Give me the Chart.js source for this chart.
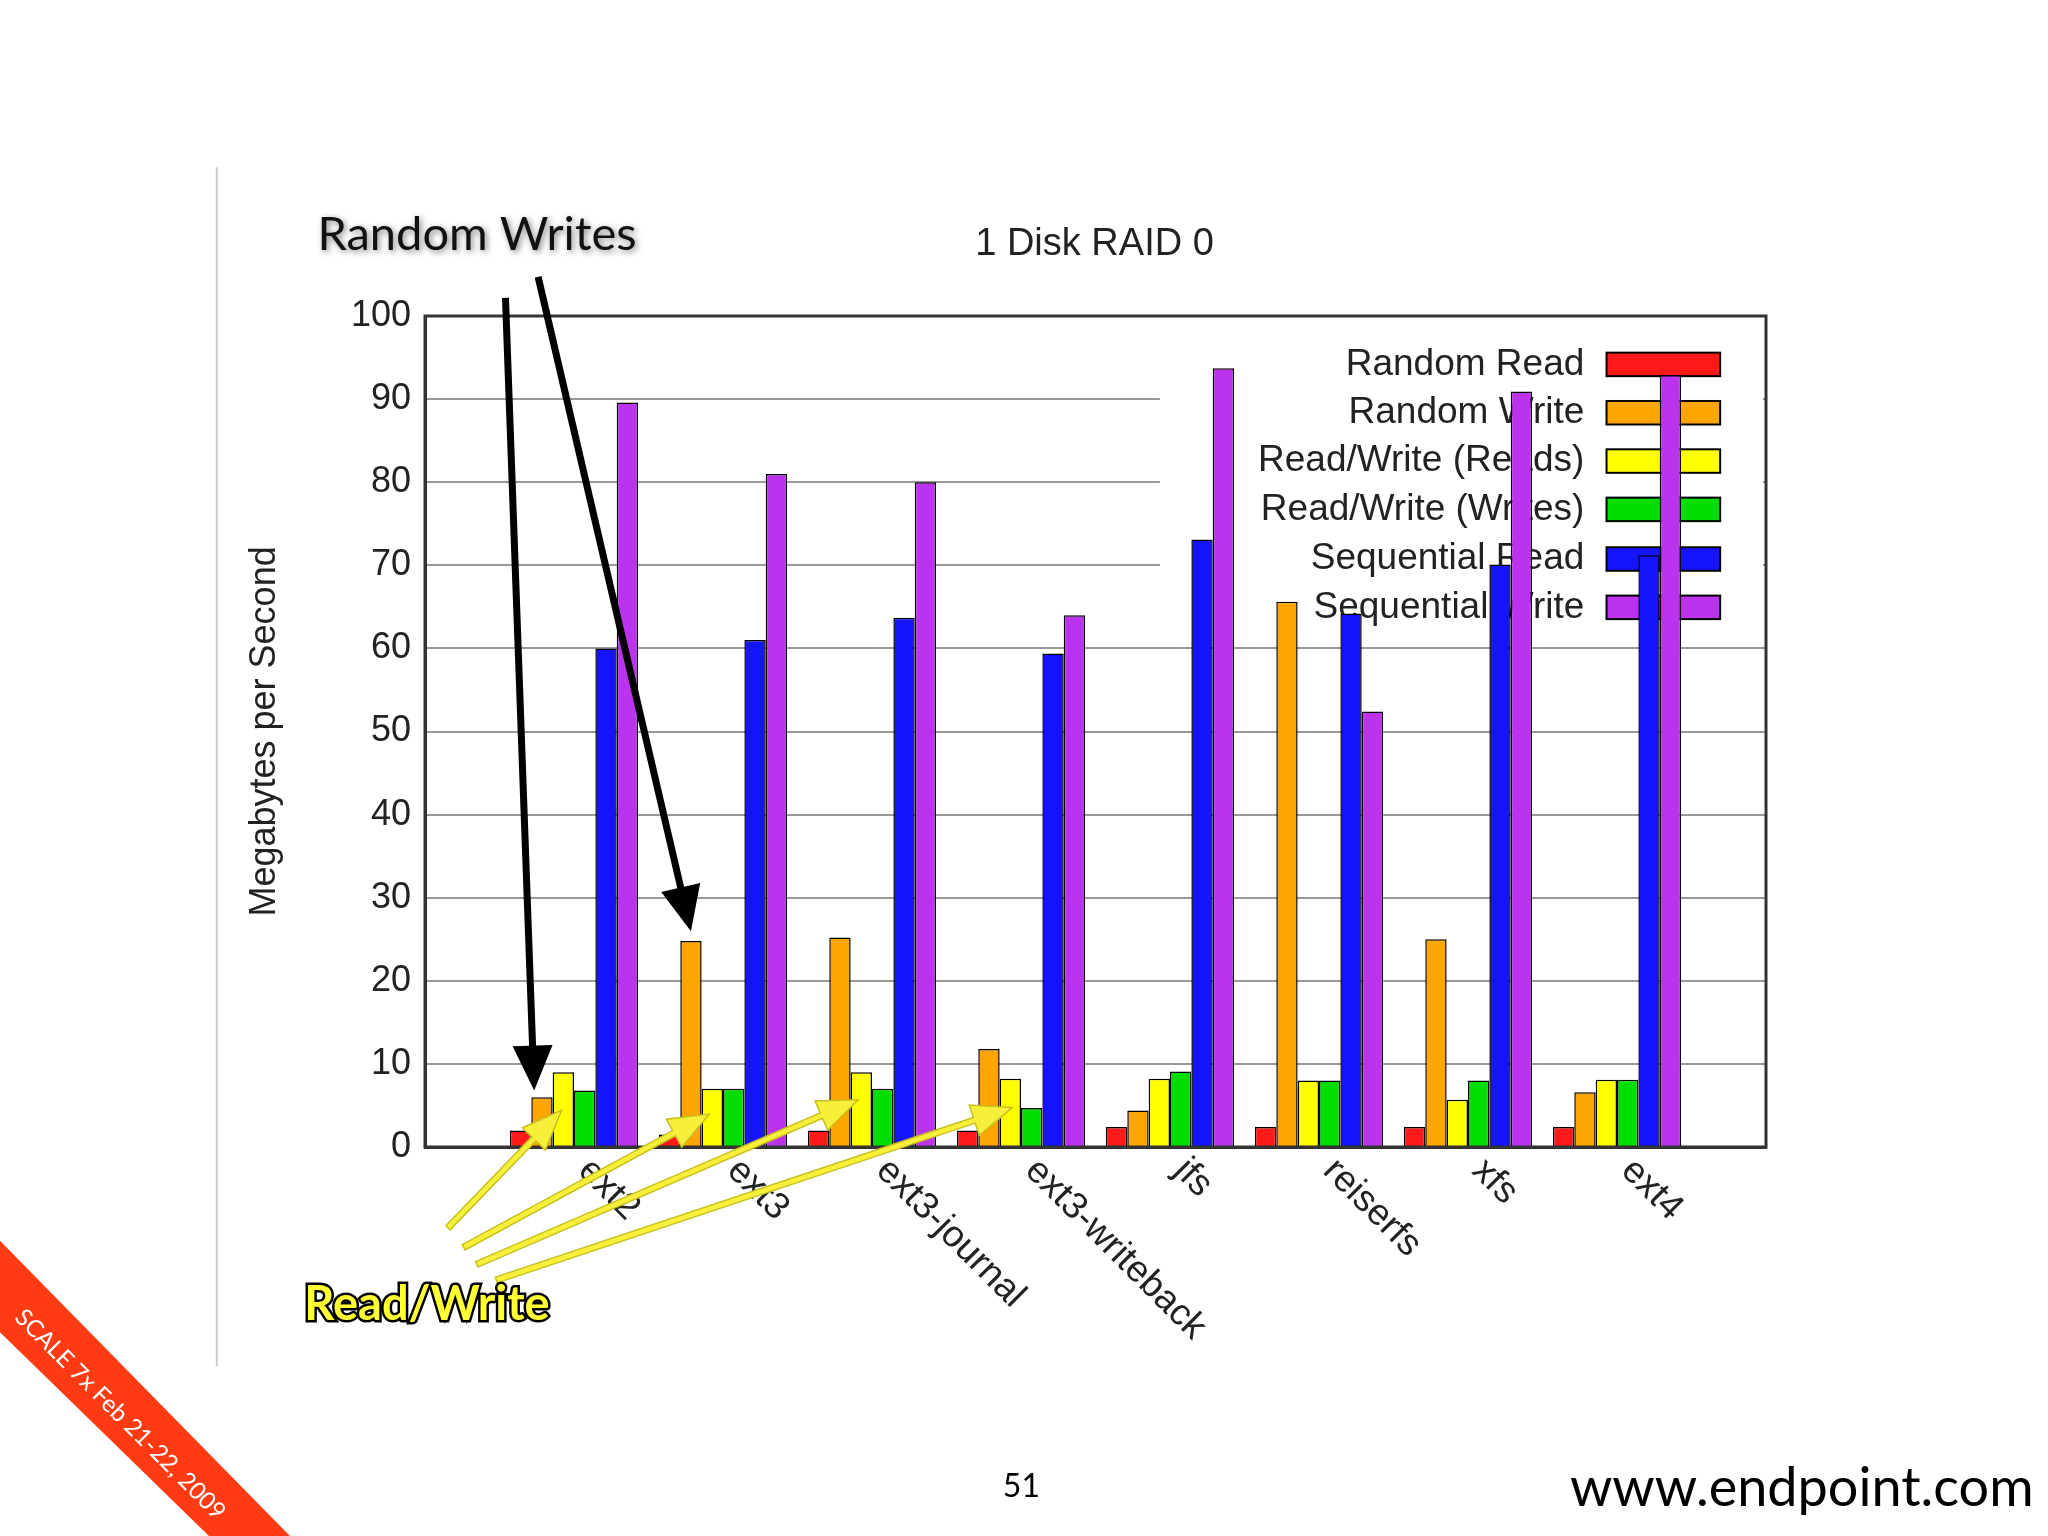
<!DOCTYPE html>
<html><head><meta charset="utf-8">
<script src="https://cdn.jsdelivr.net/npm/chart.js@4"></script>
<style>html,body{margin:0;padding:0;background:#fff}#w{width:2048px;height:1536px}</style>
</head><body><div id="w"><canvas id="c"></canvas></div>
<script>
const categories = ["ext2","ext3","ext3-journal","ext3-writeback","jfs","reiserfs","xfs","ext4"];
const seriesNames = ["Random Read","Random Write","Read/Write (Reads)","Read/Write (Writes)","Sequential Read","Sequential Write"];
const randomRead  = [2, 1.5, 2, 2, 2.4, 2.4, 2.4, 2.4];
const randomWrite = [6, 24.8, 25.2, 11.8, 4.4, 65.6, 25, 6.6];
const rwReads     = [9, 7, 9, 8.2, 8.2, 8, 5.7, 8.1];
const rwWrites    = [6.8, 7, 7, 4.7, 9.1, 8, 8, 8.1];
const seqRead     = [60, 61, 63.7, 59.4, 73.1, 64.2, 70.1, 71.2];
const seqWrite    = [89.6, 81, 80, 64, 93.7, 52.4, 90.9, 92.9];
const yTicks = [0,10,20,30,40,50,60,70,80,90,100];
const colors = ["#ff1a1a","#ffa500","#ffff00","#00dd00","#1414ff","#bb33ee"];
const values = [randomRead, randomWrite, rwReads, rwWrites, seqRead, seqWrite];
const S = 2048/1568;
const F = '"Liberation Sans", Arial, sans-serif';

const deco = {
  id:'deco',
  beforeDatasetsDraw(ch){
    const c=ch.ctx, a=ch.chartArea;
    c.save();
    c.fillStyle='#fff';
    c.fillRect(888*S, a.top+3, a.right-888*S-3, 480*S-a.top);
    c.font='37px '+F; c.textAlign='right'; c.textBaseline='middle';
    const ys=[279,316,353,390,428,465];
    seriesNames.forEach((n,i)=>{
      c.fillStyle='#222'; c.fillText(n,1213*S,ys[i]*S);
      c.fillStyle=colors[i]; c.fillRect(1230*S,(ys[i]-9)*S,87*S,18*S);
      c.strokeStyle='#000'; c.lineWidth=2; c.strokeRect(1230*S,(ys[i]-9)*S,87*S,18*S);
    });
    c.restore();
  },
  afterDraw(ch){
    const c=ch.ctx, a=ch.chartArea, xs=ch.scales.x;
    c.save();
    c.font='37px '+F; c.fillStyle='#222'; c.textAlign='left'; c.textBaseline='middle';
    categories.forEach((n,i)=>{
      const x=xs.getPixelForValue(i)+10;
      c.save(); c.translate(x, a.bottom+18); c.rotate(Math.PI/4); c.fillText(n,0,0); c.restore();
    });
    c.save(); c.translate(203*S, 560*S); c.rotate(-Math.PI/2); c.textAlign='center';
    c.font='36px '+F; c.fillText('Megabytes per Second',0,0); c.restore();
    c.textAlign='center'; c.font='38px '+F; c.fillText('1 Disk RAID 0', 838*S, 187*S);
    c.strokeStyle='#ccc'; c.lineWidth=2; c.beginPath(); c.moveTo(166*S,128*S); c.lineTo(166*S,1046*S); c.stroke();
    function arrow(x1,y1,x2,y2,col,w,hl,hw,outline){
      x1*=S;y1*=S;x2*=S;y2*=S;
      const ang=Math.atan2(y2-y1,x2-x1);
      const bx=x2-hl*Math.cos(ang), by=y2-hl*Math.sin(ang);
      c.beginPath();
      c.moveTo(x1+w/2*Math.sin(ang), y1-w/2*Math.cos(ang));
      c.lineTo(bx+w/2*Math.sin(ang), by-w/2*Math.cos(ang));
      c.lineTo(bx+hw*Math.sin(ang), by-hw*Math.cos(ang));
      c.lineTo(x2,y2);
      c.lineTo(bx-hw*Math.sin(ang), by+hw*Math.cos(ang));
      c.lineTo(bx-w/2*Math.sin(ang), by+w/2*Math.cos(ang));
      c.lineTo(x1-w/2*Math.sin(ang), y1+w/2*Math.cos(ang));
      c.closePath(); c.fillStyle=col; c.fill();
      if(outline){c.strokeStyle=outline;c.lineWidth=1.5;c.stroke();}
    }
    arrow(387,228,409,835,'#000',7,45,20);
    arrow(412,212,529,713,'#000',7,45,20);
    [[343,940,430,850],[355,955,543,853],[365,968,657,842],[380,980,775,848]].forEach(p=>arrow(p[0],p[1],p[2],p[3],'#f6f03a',6,40,16,'#c8c020'));
    c.font='47px "Lato", sans-serif'; c.textAlign='left';
    c.shadowColor='rgba(0,0,0,0.5)'; c.shadowBlur=6; c.shadowOffsetX=2; c.shadowOffsetY=2;
    c.fillStyle='#111'; c.fillText('Random Writes',243*S,180*S);
    c.shadowColor='transparent';
    c.font='bold 47px "Lato", sans-serif';
    c.lineWidth=5; c.strokeStyle='#000'; c.strokeText('Read/Write',233*S,999*S);
    c.fillStyle='#ffff33'; c.fillText('Read/Write',233*S,999*S);
    c.font='32px "Lato", sans-serif'; c.fillStyle='#000'; c.textAlign='center';
    c.fillText('51',782*S,1138*S);
    c.font='54px "Lato", sans-serif'; c.textAlign='right';
    c.fillText('www.endpoint.com',1557*S,1140*S);
    c.fillStyle='#ff3b14';
    c.beginPath(); c.moveTo(0,950*S); c.lineTo(0,1020*S); c.lineTo(160*S,1176*S); c.lineTo(222*S,1176*S); c.closePath(); c.fill();
    c.save(); c.translate(92*S,1083*S); c.rotate(Math.PI/4); c.fillStyle='#fff'; c.textAlign='center';
    c.font='24px "Lato", sans-serif'; c.fillText('SCALE 7x Feb 21-22, 2009',0,0); c.restore();
    c.restore();
  }
};

new Chart(document.getElementById('c'),{
  type:'bar',
  data:{datasets: seriesNames.map((n,i)=>({label:n,data:values[i].map((v,j)=>({x:j,y:v})),backgroundColor:colors[i],borderColor:'#000',borderWidth:1.5}))},
  options:{
    responsive:true, maintainAspectRatio:false, animation:false,
    layout:{padding:{left:0,top:316,right:282,bottom:389}},
    plugins:{legend:{display:false},tooltip:{enabled:false}},
    datasets:{bar:{barPercentage:1,categoryPercentage:0.86}},
    scales:{
      x:{type:'linear',min:-1,max:8,offset:false,ticks:{display:false},grid:{display:false},border:{color:'#333',width:3},
        afterFit(s){s.height=0;}},
      y:{min:0,max:100,afterFit(s){s.width=425;},
        afterBuildTicks(s){s.ticks=yTicks.map(v=>({value:v}));},
        ticks:{font:{size:36,family:'Liberation Sans'},color:'#222',padding:14},
        grid:{color:'#999',lineWidth:2,drawTicks:false},border:{color:'#333',width:3}}
    }
  },
  plugins:[deco,{id:'box',afterDatasetsDraw(ch){const a=ch.chartArea,c=ch.ctx;c.save();c.strokeStyle='#333';c.lineWidth=3;c.strokeRect(a.left,a.top,a.right-a.left,a.bottom-a.top);c.restore();}}]
});
</script></body></html>
